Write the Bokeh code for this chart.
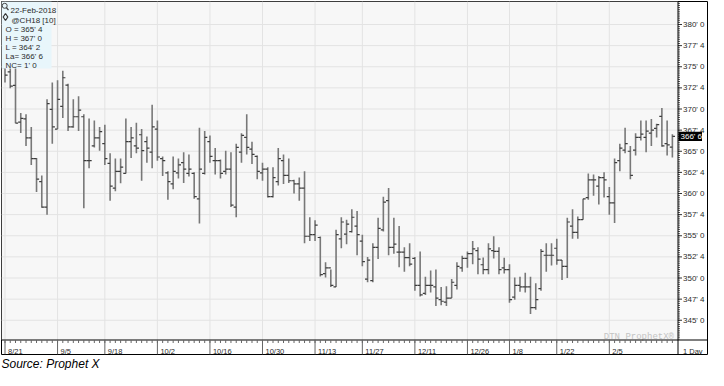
import math
from bokeh.plotting import figure
from bokeh.models import Range1d, ColumnDataSource, Title
from bokeh.core.properties import value
from bokeh.embed import file_html
from bokeh.resources import INLINE

# ---------------- data ----------------
contract = "@CH18 [10]"
last_date = "22-Feb-2018"
interval_label = "1 Day"
source_note = "Source: Prophet X"
watermark = "DTN ProphetX\u00ae"

date_labels = ["8/21", "9/5", "9/18", "10/2", "10/16", "10/30", "11/13",
               "11/27", "12/11", "12/26", "1/8", "1/22", "2/5"]
date_label_bars = [0, 10, 19, 29, 39, 49, 59, 68, 78, 88, 96, 105, 115]

opens = [374.9, 374.4, 372.8, 368.44, 368.83, 366.58, 364.13, 361.4, 358.39, 369.95,
         367.62, 370.32, 372.83, 367.88, 369.08, 369.08, 363.88, 365.63, 366.58, 365.9,
         363.57, 360.64, 362.63, 362.37, 366.13, 365.63, 366.95, 366.13, 364.89, 367.62,
         364.13, 362.44, 361.13, 362.44, 363.65, 362.37, 362.37, 359.37, 362.37, 366.13,
         363.88, 363.88, 362.63, 362.89, 358.39, 364.89, 366.64, 365.26, 364.39, 362.44,
         362.89, 359.63, 361.4, 363.88, 362.14, 361.51, 361.13, 360.64, 354.94, 355.13,
         354.79, 350.52, 351.2, 348.94, 354.64, 355.2, 355.5, 356.14, 354.37, 349.87,
         349.69, 353.63, 355.69, 359.15, 353.63, 353.07, 353.07, 352.4, 352.32, 349.13,
         348.19, 349.13, 348.94, 347.44, 347.14, 347.63, 349.13, 351.2, 352.32, 352.88,
         353.25, 351.57, 351.0, 353.25, 353.14, 351.2, 351.0, 347.74, 349.13, 348.94,
         348.94, 346.5, 348.75, 352.69, 352.69, 353.52, 352.12, 351.38, 356.14, 355.39,
         356.9, 359.52, 361.62, 360.87, 361.88, 359.63, 358.88, 363.88, 365.14, 365.0,
         365.14, 366.64, 366.64, 367.14, 367.7, 369.12, 365.9, 365.5]
highs = [375.75, 376.0, 375.25, 369.54, 369.39, 367.88, 364.21, 362.14, 371.14, 373.14,
         373.4, 374.52, 373.0, 371.14, 371.52, 369.39, 368.89, 368.63, 367.88, 368.15,
         364.77, 364.13, 364.13, 368.89, 367.88, 368.38, 367.62, 366.76, 370.51, 368.63,
         364.39, 362.63, 364.39, 364.13, 364.89, 364.62, 362.52, 367.77, 367.39, 366.87,
         365.37, 364.02, 365.07, 364.89, 365.9, 367.14, 369.39, 366.13, 364.5, 363.65,
         363.12, 363.12, 365.37, 364.62, 364.13, 361.62, 361.88, 362.63, 357.19, 356.82,
         354.9, 351.87, 351.0, 355.7, 357.19, 356.9, 358.13, 357.94, 355.13, 352.5,
         354.12, 357.12, 359.63, 360.64, 357.12, 356.14, 353.63, 354.12, 352.5, 353.14,
         350.14, 350.89, 351.0, 348.94, 349.02, 349.87, 351.87, 352.62, 353.14, 354.37,
         353.63, 352.43, 354.12, 354.94, 353.63, 352.4, 351.64, 350.07, 350.14, 350.63,
         350.14, 349.39, 353.44, 354.12, 354.12, 354.64, 352.12, 357.12, 358.13, 357.27,
         359.37, 362.37, 362.25, 362.07, 362.52, 360.76, 364.13, 365.9, 367.77, 365.63,
         367.14, 368.63, 368.63, 368.83, 368.26, 370.13, 368.63, 367.0]
lows = [373.15, 372.46, 368.3, 367.17, 365.63, 363.38, 360.19, 358.31, 357.49, 365.9,
        367.62, 368.94, 367.39, 367.77, 367.39, 358.25, 363.0, 365.45, 365.07, 363.38,
        359.15, 360.27, 361.21, 362.37, 364.21, 364.77, 361.51, 363.65, 363.0, 363.88,
        362.07, 359.26, 360.49, 361.77, 361.25, 362.0, 359.37, 356.45, 362.25, 363.65,
        362.25, 361.77, 362.25, 358.39, 357.19, 363.65, 364.62, 363.49, 361.69, 361.51,
        359.52, 359.52, 360.95, 361.13, 361.25, 360.0, 359.15, 354.12, 354.37, 354.37,
        350.18, 350.07, 348.94, 348.94, 353.52, 354.0, 355.39, 352.69, 351.38, 349.5,
        349.5, 352.24, 355.5, 352.69, 352.88, 351.27, 350.74, 351.38, 348.49, 347.81,
        348.0, 348.27, 346.69, 346.77, 346.69, 347.63, 348.64, 350.74, 351.2, 351.64,
        350.44, 350.44, 350.44, 352.32, 350.44, 350.52, 347.06, 347.44, 348.38, 348.27,
        345.75, 346.24, 348.49, 350.74, 351.49, 351.57, 349.76, 349.99, 354.64, 354.64,
        356.9, 359.26, 359.74, 358.7, 359.52, 357.49, 356.52, 362.63, 364.77, 361.69,
        364.5, 366.27, 364.89, 365.63, 366.64, 365.52, 364.5, 364.25]
closes = [374.0, 372.7, 368.33, 368.89, 366.58, 364.13, 361.69, 358.39, 370.63, 367.88,
          371.14, 373.7, 367.88, 369.08, 369.87, 363.88, 363.88, 366.58, 367.32, 364.13,
          360.87, 362.63, 363.12, 366.13, 366.58, 365.37, 365.07, 365.37, 367.88, 364.32,
          363.9, 361.4, 362.63, 363.38, 362.89, 362.89, 359.63, 362.89, 366.64, 364.39,
          363.88, 362.37, 362.89, 358.62, 365.45, 366.87, 365.45, 364.62, 362.63, 362.89,
          359.63, 361.88, 364.13, 362.14, 361.51, 361.13, 360.64, 354.94, 355.13, 356.26,
          350.41, 351.2, 349.13, 355.13, 356.63, 356.37, 357.19, 355.13, 351.94, 352.12,
          353.63, 355.88, 358.99, 353.63, 354.0, 353.07, 352.4, 351.64, 349.13, 348.0,
          349.13, 349.13, 347.63, 347.25, 347.63, 349.5, 351.38, 352.32, 352.88, 353.44,
          352.24, 351.0, 353.44, 353.14, 351.0, 351.0, 347.44, 349.13, 348.94, 348.94,
          346.5, 347.44, 353.14, 352.69, 352.69, 352.12, 351.38, 356.63, 355.39, 356.9,
          359.37, 361.62, 361.62, 361.88, 361.62, 358.88, 363.65, 365.37, 365.9, 362.14,
          366.64, 367.02, 367.39, 367.51, 368.15, 365.63, 365.75, 366.75]

price_ticks = [345.0, 347.5, 350.0, 352.5, 355.0, 357.5, 360.0, 362.5,
               365.0, 367.5, 370.0, 372.5, 375.0, 377.5, 380.0]


def eighths(p):
    """Format a price in cents as CBOT cents'eighths, e.g. 365.5 -> 365' 4."""
    neg = p < 0
    p = abs(p)
    whole = int(math.floor(p + 1e-9))
    e = int(round((p - whole) * 8))
    if e == 8:
        whole, e = whole + 1, 0
    return ("-" if neg else "") + f"{whole}' {e}"


price_tick_labels = [eighths(t) for t in price_ticks]

# ---------------- layout (pixels) ----------------
W, H = 708, 370
BL, BR, BT, BB = 1, 1, 1, 16
FW, FH = W - BL - BR, H - BT - BB          # frame size
PXB = 5.255                                  # pixels per bar
X0PX = 3.5                                   # frame px of the first bar
PXC = 8.45                                   # pixels per cent
Y380PX = 23.0                                # frame px of 380
PLOT_W = 676.5                               # frame px of the price-column separator
STRIP_Y = 338.5                              # frame px of the date strip top

x_start = -X0PX / PXB
x_end = x_start + FW / PXB
y_top = 380.0 + Y380PX / PXC
y_bot = y_top - FH / PXC


def dx(fx):
    return x_start + fx / PXB


def dy(fy):
    return y_top - fy / PXC


FONT = value("Liberation Sans")
TXT = "#2b2b2b"
BAR_V = "#787878"
BAR_T = "#3c3c3c"
TICK = 2.6 / PXB

p = figure(width=W, height=H, x_range=Range1d(x_start, x_end), y_range=Range1d(y_bot, y_top),
           x_axis_type=None, y_axis_type=None, output_backend="svg", toolbar_location=None,
           min_border_left=BL, min_border_right=BR, min_border_top=BT, min_border_bottom=BB)
p.outline_line_color = "#000000"
p.outline_line_width = 1
p.background_fill_color = "#ffffff"
p.border_fill_color = "#ffffff"

# plot-area background
p.quad(left=[x_start], right=[dx(PLOT_W)], bottom=[dy(STRIP_Y)], top=[y_top],
       fill_color="#f7f7f7", line_color=None)

# grid lines
p.segment(x0=[x_start] * len(price_ticks), x1=[dx(PLOT_W)] * len(price_ticks),
          y0=price_ticks, y1=price_ticks, line_color="#e3e3e3", line_width=1)
p.segment(x0=date_label_bars, x1=date_label_bars, y0=[dy(STRIP_Y)] * len(date_label_bars),
          y1=[y_top] * len(date_label_bars), line_color="#e3e3e3", line_width=1)

# watermark
p.text(x=[dx(PLOT_W - 4)], y=[dy(STRIP_Y - 3)], text=[watermark], text_align="right",
       text_baseline="alphabetic", text_font=value("Liberation Mono"),
       text_font_size=value("9px"), text_color="#c4c4c4")

# OHLC bars
idx = list(range(len(closes)))
src = ColumnDataSource(dict(i=idx, o=opens, h=highs, l=lows, c=closes,
                            il=[i - TICK for i in idx], ir=[i + TICK for i in idx]))
p.segment(x0="i", y0="l", x1="i", y1="h", source=src, line_color=BAR_V, line_width=1.6)
p.segment(x0="il", y0="o", x1="i", y1="o", source=src, line_color=BAR_T, line_width=1.2)
p.segment(x0="i", y0="c", x1="ir", y1="c", source=src, line_color=BAR_T, line_width=1.2)

# info box (top-left)
lo, hi, op, la = lows[-1], highs[-1], opens[-1], closes[-1]
nc = closes[-1] - closes[-2]
info_lines = [f"O = {eighths(op)}", f"H = {eighths(hi)}", f"L = {eighths(lo)}",
              f"La= {eighths(la)}", f"NC= {eighths(nc)}"]
p.quad(left=[x_start], right=[dx(50)], top=[y_top], bottom=[dy(67)],
       fill_color="#e8f6fb", line_color=None)
p.scatter(x=[dx(3.2)], y=[dy(4.3)], marker="circle", size=5, fill_color=None,
          line_color="#444444", line_width=1)
p.segment(x0=[dx(4.8)], y0=[dy(6.0)], x1=[dx(7.0)], y1=[dy(8.6)], line_color="#444444", line_width=1.3)
p.text(x=[dx(9)], y=[dy(9)], text=[last_date], text_font=FONT, text_font_size=value("8px"),
       text_color=TXT, text_baseline="alphabetic")
p.scatter(x=[dx(4)], y=[dy(15.5)], marker="diamond", size=7, fill_color=None,
          line_color="#333333", line_width=1.2)
p.text(x=[dx(10)], y=[dy(18.5)], text=[contract], text_font=FONT, text_font_size=value("8px"),
       text_color=TXT, text_baseline="alphabetic")
p.text(x=[dx(4)] * len(info_lines), y=[dy(27.5 + 9 * k) for k in range(len(info_lines))],
       text=info_lines, text_font=FONT, text_font_size=value("8px"), text_color=TXT,
       text_baseline="alphabetic")

# date strip
p.segment(x0=[x_start], x1=[x_end], y0=[dy(STRIP_Y)], y1=[dy(STRIP_Y)], line_color="#000000", line_width=1)
p.segment(x0=idx, x1=idx, y0=[dy(STRIP_Y)] * len(idx), y1=[dy(STRIP_Y + 3)] * len(idx),
          line_color="#666666", line_width=1)
p.segment(x0=date_label_bars, x1=date_label_bars, y0=[dy(STRIP_Y)] * len(date_label_bars),
          y1=[y_bot] * len(date_label_bars), line_color="#666666", line_width=1)
p.text(x=[b + 3.0 / PXB for b in date_label_bars], y=[dy(STRIP_Y + 11)] * len(date_labels),
       text=date_labels, text_font=FONT, text_font_size=value("7.5px"), text_color=TXT,
       text_baseline="alphabetic", text_align="left")

# price column
minor = [k / 4 for k in range(int(math.ceil(dy(STRIP_Y) * 4)), int(math.floor(y_top * 4)) + 1)]
p.segment(x0=[dx(PLOT_W)] * len(minor), x1=[dx(PLOT_W + 2)] * len(minor), y0=minor, y1=minor,
          line_color="#555555", line_width=1)
p.segment(x0=[dx(PLOT_W)] * len(price_ticks), x1=[dx(PLOT_W + 4)] * len(price_ticks),
          y0=price_ticks, y1=price_ticks, line_color="#333333", line_width=1)
p.text(x=[dx(PLOT_W + 5)] * len(price_ticks), y=price_ticks, text=price_tick_labels,
       text_font=FONT, text_font_size=value("8px"), text_color=TXT, text_baseline="middle",
       text_align="left")
p.segment(x0=[dx(PLOT_W)], x1=[dx(PLOT_W)], y0=[y_bot], y1=[y_top], line_color="#000000", line_width=1)
p.text(x=[dx(PLOT_W + 5)], y=[dy(STRIP_Y + 11)], text=[interval_label], text_font=FONT,
       text_font_size=value("7.5px"), text_color=TXT, text_baseline="alphabetic")

# last-price marker
p.quad(left=[dx(PLOT_W + 0.5)], right=[dx(PLOT_W + 24)], bottom=[la - 4.6 / PXC], top=[la + 4.6 / PXC],
       fill_color="#000000", line_color=None)
p.text(x=[dx(PLOT_W + 2.5)], y=[la], text=[eighths(la)], text_font=FONT, text_font_size=value("8px"),
       text_color="#ffffff", text_baseline="middle", text_align="left")

p.add_layout(Title(text=source_note, align="left", text_font="Liberation Sans",
                   text_font_style="italic", text_font_size="12px", text_color="#000000",
                   standoff=0, offset=0), "below")

open("out.html", "w").write(file_html(p, INLINE))
